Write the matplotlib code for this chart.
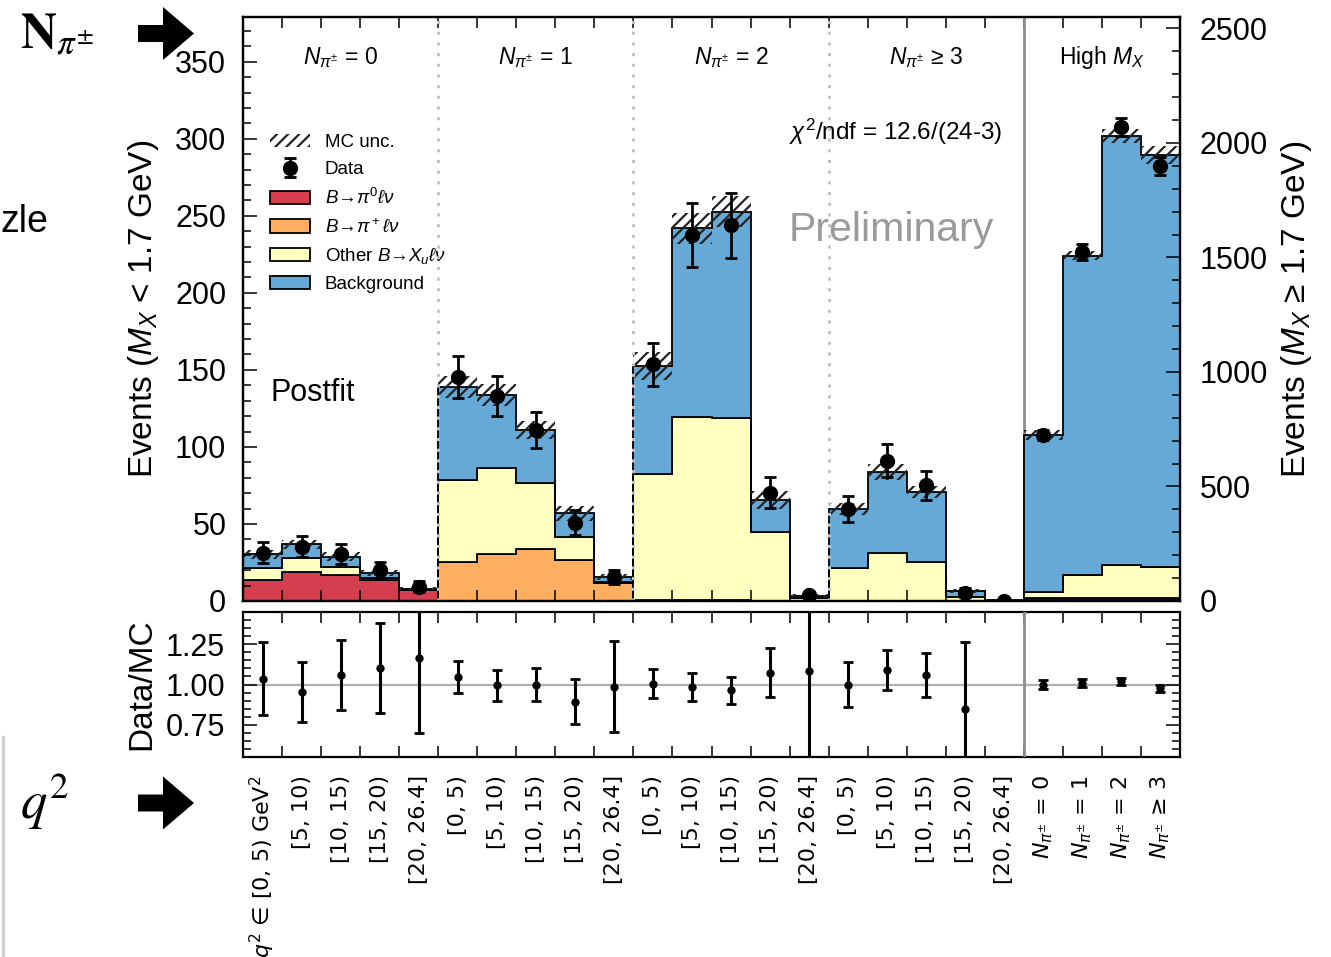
import numpy as np
import matplotlib as mpl
import matplotlib.pyplot as plt
from matplotlib.patches import Patch, Polygon
from matplotlib.lines import Line2D
from matplotlib.ticker import MultipleLocator, FixedLocator

mpl.rcParams['font.family'] = ['Liberation Sans', 'DejaVu Sans']
mpl.rcParams['mathtext.fontset'] = 'custom'
mpl.rcParams['mathtext.rm'] = 'Liberation Sans'
mpl.rcParams['mathtext.it'] = 'Liberation Sans:italic'
mpl.rcParams['mathtext.bf'] = 'Liberation Sans:bold'
mpl.rcParams['hatch.linewidth'] = 1.6

# 24 bins: N_pi = 0,1,2,>=3 (5 q2 bins each, M_X < 1.7 GeV) + 4 high M_X bins
q2_bins = ['[0, 5)', '[5, 10)', '[10, 15)', '[15, 20)', '[20, 26.4]']
npi_labels = [r'$N_{\pi^{\pm}}$ = 0', r'$N_{\pi^{\pm}}$ = 1', r'$N_{\pi^{\pm}}$ = 2', r'$N_{\pi^{\pm}}$ ≥ 3']
group_titles = [r'$N_{\pi^{\pm}}$ = 0', r'$N_{\pi^{\pm}}$ = 1', r'$N_{\pi^{\pm}}$ = 2', r'$N_{\pi^{\pm}}$ ≥ 3', r'High $M_X$']

# postfit MC components per bin (bins 20-23 in right-axis units)
pi0 = [13.6, 19.0, 16.7, 13.6, 7.1, 0, 0, 0, 0, 0, 0, 0, 0, 0, 0, 0, 0, 0, 0, 0,
       5, 4, 4, 4]
pip = [0, 0, 0, 0, 0, 25.3, 30.5, 33.8, 26.6, 11.9, 0.4, 0.6, 0.6, 0.3, 0.1, 0.2, 0.3, 0.3, 0.1, 0.0,
       8, 10, 10, 8]
other = [8.0, 8.7, 5.6, 1.5, 0.3, 53.3, 55.5, 42.8, 14.7, 0.6, 82.1, 118.9, 118.2, 44.5, 1.9,
         21.2, 30.7, 25.1, 2.5, 0.2, 27, 99.5, 143, 138]
bkg = [8.6, 9.1, 6.5, 3.3, 0.6, 60.2, 47.8, 34.4, 15.6, 3.3, 70.1, 122.5, 133.8, 20.8, 1.5,
       38.3, 52.6, 45.4, 3.9, 0.3, 685, 1394.5, 1873, 1798]
mc_unc = [3, 3, 3, 2, 1, 7, 7, 6, 5, 2, 9, 10, 10, 6, 0.8, 4, 5, 4, 1, 0.3, 20, 20, 29, 40]

data = [31.3, 35.1, 30.5, 20.3, 9.3, 145.3, 133.0, 111.0, 50.8, 15.6, 153.5, 237.6, 243.8, 70.4, 3.8,
        59.7, 91.1, 75.0, 5.5, 0, 725, 1523, 2070, 1900]
data_err = [6.8, 6.8, 6.3, 5.1, 3.7, 13.5, 13, 11.5, 8, 4.5, 14, 21, 21, 10, 2,
            8.5, 10.5, 9.5, 2.7, 0, 20, 35, 40, 38]

comps = [('pi0', pi0, '#d53e4f', r'$B$→$\pi^0\ell\nu$'),
         ('pip', pip, '#fdae61', r'$B$→$\pi^+\ell\nu$'),
         ('other', other, '#ffffbf', r'Other $B$→$X_u\ell\nu$'),
         ('bkg', bkg, '#66a9d6', 'Background')]

nb = len(data)
edges = np.arange(nb + 1)
centers = edges[:-1] + 0.5
mc_tot = np.array(pi0) + np.array(pip) + np.array(other) + np.array(bkg)
data = np.array(data)
data_err = np.array(data_err)
mc_unc = np.array(mc_unc)
lo = slice(0, 20)
hi = slice(20, 24)

W, H = 1331, 957
fig = plt.figure(figsize=(W / 100, H / 100), dpi=100)
ax = fig.add_axes([243 / W, 1 - 601 / H, 937 / W, 584 / H])
axr = fig.add_axes([243 / W, 1 - 757 / H, 937 / W, 145 / H], sharex=ax)
ax2 = ax.twinx()

def draw_stack(a, sl):
    base = np.zeros(sl.stop - sl.start)
    e = edges[sl.start:sl.stop + 1]
    handles = []
    for name, vals, col, lab in comps:
        v = np.array(vals[sl])
        a.stairs(base + v, e, baseline=base, fill=True, facecolor=col, edgecolor='k', lw=1.3)
        base = base + v
        handles.append(Patch(facecolor=col, edgecolor='k', lw=1.3, label=lab))
    tot = mc_tot[sl]
    unc = mc_unc[sl]
    a.stairs(tot + unc, e, baseline=tot - unc, fill=True, facecolor='none',
             edgecolor='#222222', hatch='///', lw=0)
    eb = a.errorbar(centers[sl], data[sl], yerr=data_err[sl], fmt='o', color='k', ms=10,
                    elinewidth=2, capsize=4, capthick=2, zorder=5)
    return handles, eb

comp_handles, eb = draw_stack(ax, lo)
draw_stack(ax2, hi)

ax.set_xlim(0, nb)
ax.set_ylim(0, 379)
ax2.set_ylim(0, 2550)

# group separators
for x in [5, 10, 15]:
    ax.axvline(x, color='#c4c4c4', ls=(0, (1, 2.5)), lw=2.2, zorder=6)
for a in [ax, axr]:
    a.axvline(20, color='#8c8c8c', lw=2, zorder=6)

xt = ax.get_xaxis_transform()
for i, t in enumerate(group_titles):
    xc = 2.5 + 5 * i if i < 4 else 22
    ax.text(xc, 0.93, t, transform=xt, ha='center', va='center', fontsize=16.5)

ax.text(0.029, 0.356, 'Postfit', transform=ax.transAxes, fontsize=22, va='center')
ax.text(0.696, 0.803, r'$\chi^2$/ndf = 12.6/(24-3)', transform=ax.transAxes, fontsize=17.5,
        ha='center', va='center')
ax.text(0.6916, 0.635, 'Preliminary', transform=ax.transAxes, fontsize=29.5, color='#9a9a9a',
        ha='center', va='center', zorder=1)

unc_handle = Patch(facecolor='none', edgecolor='#222222', hatch='///', lw=0, label='MC unc.')
handles = [unc_handle, eb] + comp_handles
labels = ['MC unc.', 'Data'] + [c[3] for c in comps]
ax.legend(handles, labels, loc='upper left', bbox_to_anchor=(0.021, 0.812), frameon=False,
          fontsize=13.5, handlelength=2.1, handletextpad=0.8, labelspacing=0.52,
          borderaxespad=0)

# ratio panel
ratio = data / mc_tot
ratio_err = data_err / mc_tot
axr.axhline(1.0, color='#b0b0b0', lw=1.6, zorder=0)
axr.errorbar(centers, ratio, yerr=ratio_err, fmt='o', color='k', ms=5, elinewidth=2.2,
             capsize=3.5, capthick=2)
axr.set_ylim(0.55, 1.45)
axr.yaxis.set_major_locator(FixedLocator([0.75, 1.0, 1.25]))
axr.set_yticklabels(['0.75', '1.00', '1.25'])
axr.yaxis.set_minor_locator(MultipleLocator(0.05))

xlabels = [r'$q^2$ ∈ [0, 5) GeV$^2$'] + q2_bins[1:] + q2_bins * 3 + npi_labels
axr.set_xticks(centers)
axr.set_xticklabels(xlabels, rotation=90, fontsize=16, family='DejaVu Sans',
                    math_fontfamily='dejavusans')
axr.xaxis.set_minor_locator(FixedLocator(edges))

for a in [ax, axr]:
    a.tick_params(axis='x', which='major', length=0, pad=13)
    a.tick_params(axis='x', which='minor', direction='in', length=8, width=1.1, top=True, bottom=True)
ax.tick_params(axis='x', which='both', labelbottom=False)

ax.yaxis.set_major_locator(MultipleLocator(50))
ax.yaxis.set_minor_locator(MultipleLocator(10))
ax.tick_params(axis='y', which='both', direction='in', right=False, labelsize=22, width=1.1, pad=12)
ax.tick_params(axis='y', which='major', length=10)
ax.tick_params(axis='y', which='minor', length=6)
ax2.yaxis.set_major_locator(MultipleLocator(500))
ax2.yaxis.set_minor_locator(MultipleLocator(100))
ax2.tick_params(axis='y', which='both', direction='in', labelsize=22, width=1.1, pad=14)
ax2.tick_params(axis='y', which='major', length=10)
ax2.tick_params(axis='y', which='minor', length=6)
axr.tick_params(axis='y', which='both', direction='in', right=True, labelsize=22, width=1.1, pad=13)
axr.tick_params(axis='y', which='major', length=10)
axr.tick_params(axis='y', which='minor', length=6)

for a in [ax, ax2, axr]:
    for s in a.spines.values():
        s.set_linewidth(1.6)

ax.set_ylabel(r'Events ($M_X$ < 1.7 GeV)', fontsize=24, labelpad=10)
ax2.set_ylabel(r'Events ($M_X$ ≥ 1.7 GeV)', fontsize=24, labelpad=8)
axr.set_ylabel('Data/MC', fontsize=24, labelpad=6)

# slide elements around the plot
def px(x, y):
    return x / W, 1 - y / H

fig.text(*px(20, 12), r'$\mathbf{N}_{\pi^{\pm}}$', fontsize=36, math_fontfamily='stix', va='top')
fig.text(*px(20, 772), r'$q^2$', fontsize=38, math_fontfamily='stix', va='top')
fig.text(*px(0, 222), 'zle', fontsize=27, va='center')
for yc in [33.5, 803]:
    pts = [(138, yc - 8.5), (163, yc - 8.5), (163, yc - 26.5), (194, yc), (163, yc + 26.5),
           (163, yc + 8.5), (138, yc + 8.5)]
    fig.patches.append(Polygon([px(*p) for p in pts], closed=True, facecolor='k', edgecolor='none',
                               transform=fig.transFigure))
fig.lines.append(Line2D([3 / W, 3 / W], [1 - 737 / H, 0], color='#d0d0d0', lw=2.5,
                        transform=fig.transFigure))

fig.savefig('out.png', dpi=100)
